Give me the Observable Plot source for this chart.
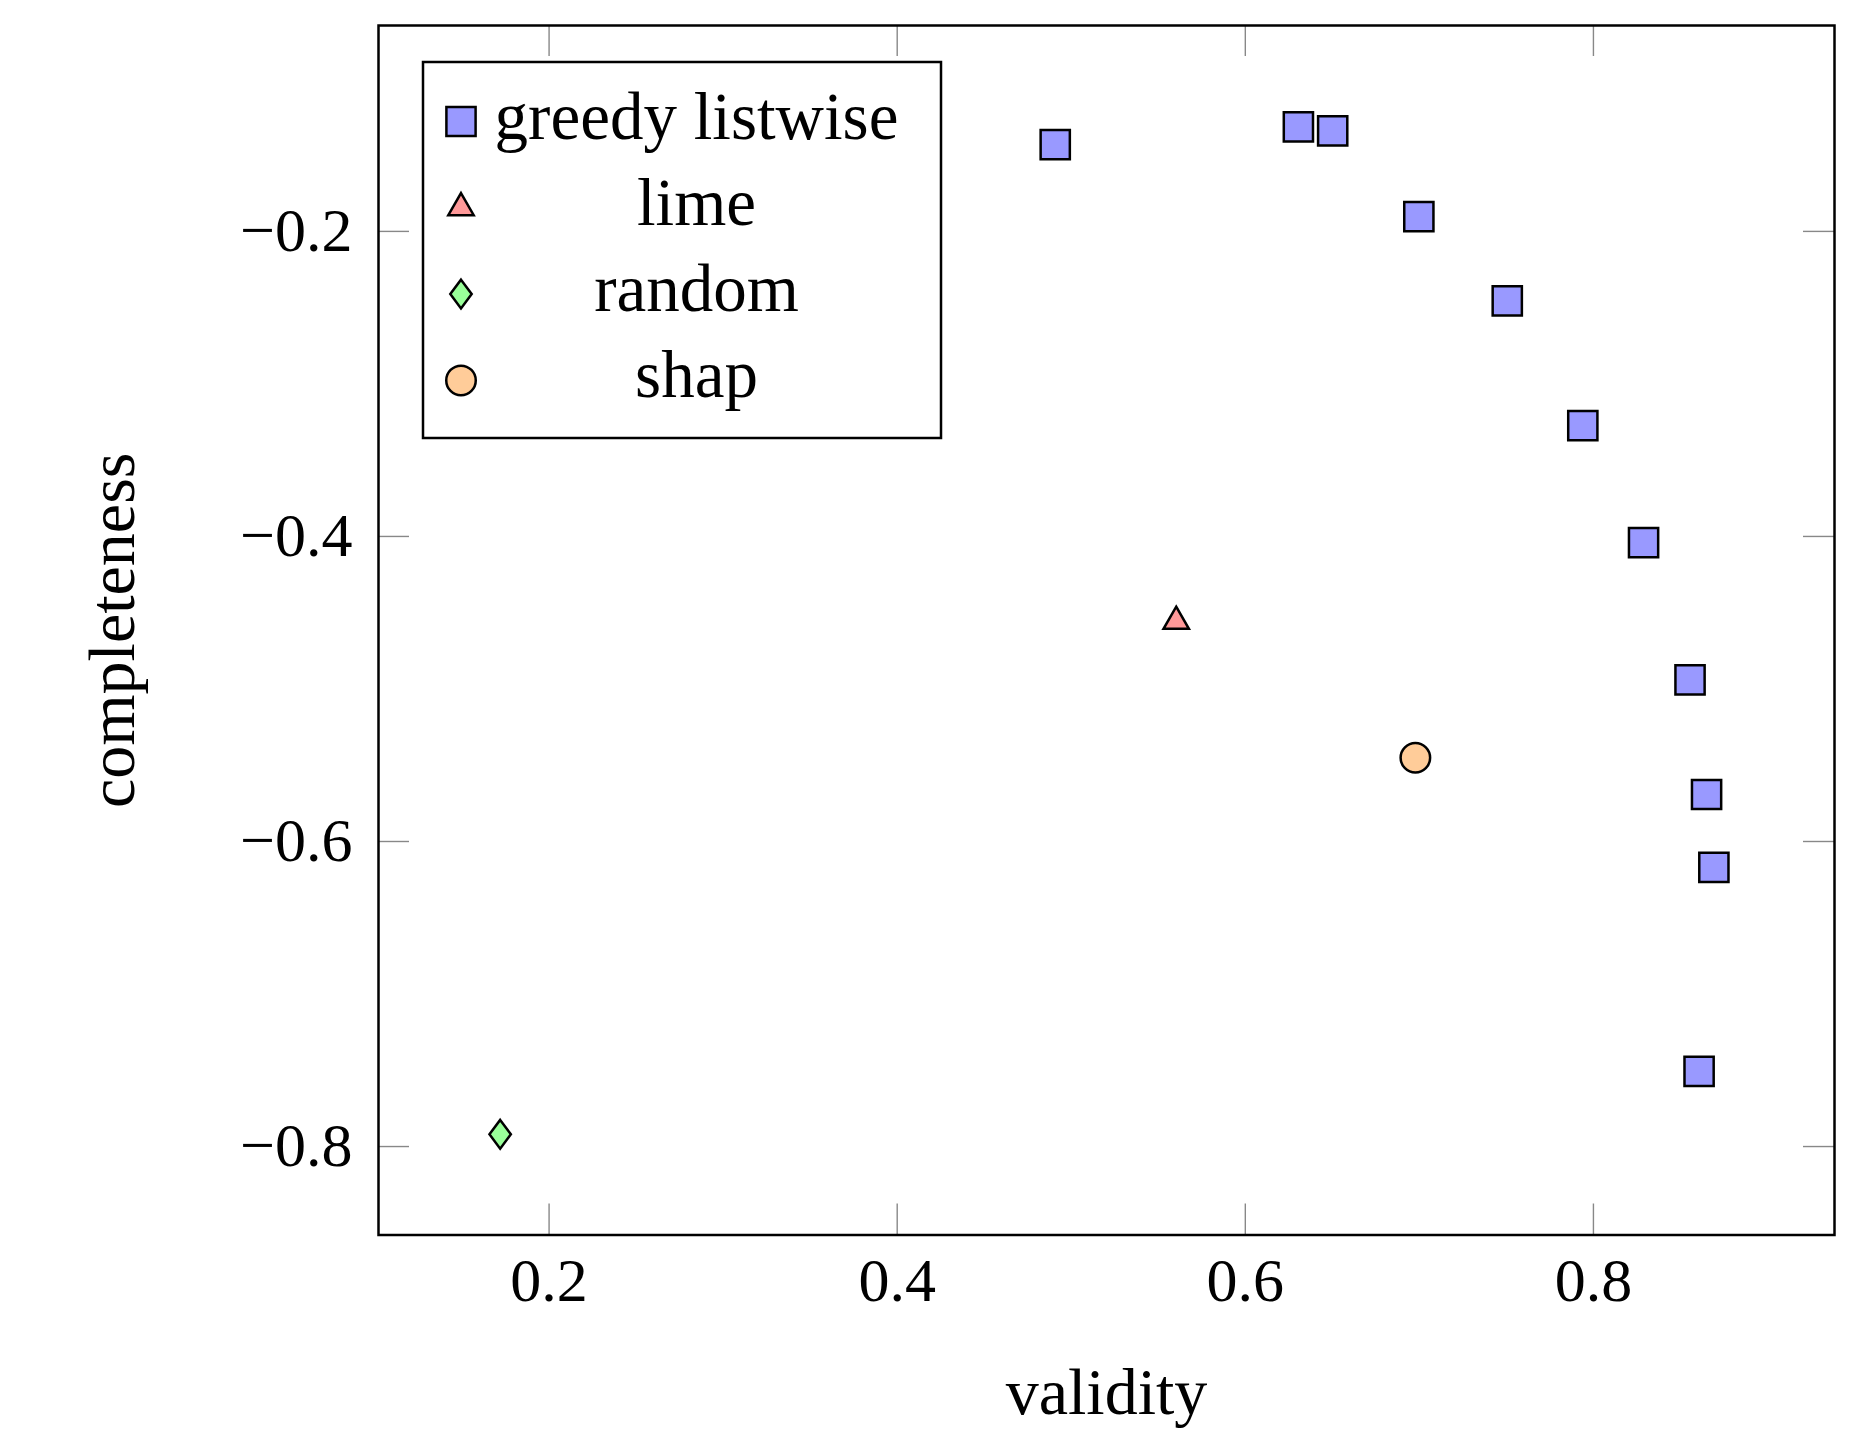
<!DOCTYPE html>
<html><head><meta charset="utf-8">
<script src="https://cdn.jsdelivr.net/npm/d3@7"></script>
<script src="https://cdn.jsdelivr.net/npm/@observablehq/plot@0.6"></script>
<style>
html,body{margin:0;padding:0;background:#fff;}
#wrap{position:relative;width:1870px;height:1432px;}
#legend{position:absolute;left:0;top:0;pointer-events:none;}
</style></head><body><div id="wrap"></div>
<script>
// ---- data ----
const seriesNames = ["greedy listwise", "lime", "random", "shap"];
const seriesFills = ["#9999ff", "#ff9999", "#99ff99", "#ffcc99"];
const greedyValidity = [0.4908, 0.6305, 0.6502, 0.6997, 0.7505, 0.7939, 0.8288, 0.8555, 0.8650, 0.8692, 0.8607];
const greedyCompleteness = [-0.1431, -0.1315, -0.1341, -0.1903, -0.2456, -0.3273, -0.4040, -0.4941, -0.5692, -0.6170, -0.7507];
const limeValidity = [0.5603];
const limeCompleteness = [-0.4557];
const randomValidity = [0.1719];
const randomCompleteness = [-0.7920];
const shapValidity = [0.6977];
const shapCompleteness = [-0.5451];
const xTicks = [0.2, 0.4, 0.6, 0.8];
const yTicks = [-0.8, -0.6, -0.4, -0.2];
const xLabel = "validity";
const yLabel = "completeness";

const toRows = (xs, ys) => xs.map((v, i) => ({validity: v, completeness: ys[i]}));
const fmt = d3.format(".1f");

// ---- marker symbols ----
const unit = (size) => Math.sqrt(size / Math.PI);
const squareSym = {draw(c, size) { const k = unit(size) * 14.6; c.moveTo(-k, -k); c.lineTo(k, -k); c.lineTo(k, k); c.lineTo(-k, k); c.closePath(); }};
const triangleSym = {draw(c, size) { const k = unit(size); c.moveTo(0, -14.7 * k); c.lineTo(12.7 * k, 7.35 * k); c.lineTo(-12.7 * k, 7.35 * k); c.closePath(); }};
const diamondSym = {draw(c, size) { const k = unit(size); c.moveTo(0, -14.4 * k); c.lineTo(10.7 * k, 0); c.lineTo(0, 14.4 * k); c.lineTo(-10.7 * k, 0); c.closePath(); }};
const circleSym = {draw(c, size) { const k = unit(size) * 14.75; c.moveTo(k, 0); c.arc(0, 0, k, 0, 2 * Math.PI); c.closePath(); }};
const symbols = [squareSym, triangleSym, diamondSym, circleSym];

// ---- layout ----
const W = 1870, H = 1432, mL = 378, mR = 36, mT = 25, mB = 197.5;
const fw = W - mL - mR, fh = H - mT - mB;
const tickLen = 31;
const font = "'Liberation Serif', 'Times New Roman', serif";
const tickStyle = {stroke: "#888", strokeWidth: 1.4};
const dotStyle = {x: "validity", y: "completeness", r: 1, stroke: "black", strokeWidth: 2.5};

const chart = Plot.plot({
  width: W, height: H,
  marginLeft: mL, marginRight: mR, marginTop: mT, marginBottom: mB,
  style: {fontFamily: font, fontSize: "62px", background: "white", color: "black", overflow: "visible"},
  x: {domain: [0.102, 0.9385]},
  y: {domain: [-0.858, -0.065]},
  marks: [
    Plot.tickX(xTicks, {x: d => d, insetTop: fh - tickLen, ...tickStyle}),
    Plot.tickX(xTicks, {x: d => d, insetBottom: fh - tickLen, ...tickStyle}),
    Plot.tickY(yTicks, {y: d => d, insetRight: fw - tickLen, ...tickStyle}),
    Plot.tickY(yTicks, {y: d => d, insetLeft: fw - tickLen, ...tickStyle}),
    Plot.axisX(xTicks, {tickSize: 0, tickPadding: 22, fontSize: 62, label: null, tickFormat: fmt}),
    Plot.axisY(yTicks, {tickSize: 0, tickPadding: 26, fontSize: 62, label: null, tickFormat: fmt}),
    Plot.text([xLabel], {text: d => d, frameAnchor: "bottom", dy: 157.4, lineAnchor: "middle", textAnchor: "middle", fontSize: 66}),
    Plot.text([yLabel], {text: d => d, frameAnchor: "left", dx: -265.8, rotate: -90, lineAnchor: "middle", textAnchor: "middle", fontSize: 66}),
    Plot.dot(toRows(greedyValidity, greedyCompleteness), {...dotStyle, symbol: squareSym, fill: seriesFills[0]}),
    Plot.dot(toRows(limeValidity, limeCompleteness), {...dotStyle, symbol: triangleSym, fill: seriesFills[1]}),
    Plot.dot(toRows(randomValidity, randomCompleteness), {...dotStyle, symbol: diamondSym, fill: seriesFills[2]}),
    Plot.dot(toRows(shapValidity, shapCompleteness), {...dotStyle, symbol: circleSym, fill: seriesFills[3]}),
    Plot.frame({stroke: "black", strokeWidth: 2.5})
  ]
});

const wrap = document.getElementById("wrap");
wrap.appendChild(chart);

// ---- legend (inside plot area, upper left) ----
const lg = d3.select(wrap).append("svg").attr("id", "legend").attr("width", W).attr("height", H);
lg.append("rect").attr("x", 423).attr("y", 62).attr("width", 518).attr("height", 376)
  .attr("fill", "white").attr("stroke", "black").attr("stroke-width", 2.5);
seriesNames.forEach((name, i) => {
  const cy = 121.5 + i * 86.3;
  const p = d3.path();
  symbols[i].draw(p, Math.PI);
  lg.append("path").attr("d", p.toString()).attr("transform", `translate(461,${cy})`)
    .attr("fill", seriesFills[i]).attr("stroke", "black").attr("stroke-width", 2.5);
  lg.append("text").attr("x", 696.5).attr("y", cy + 17).attr("text-anchor", "middle")
    .attr("font-family", font).attr("font-size", 67).attr("fill", "black").text(name);
});
</script></body></html>
